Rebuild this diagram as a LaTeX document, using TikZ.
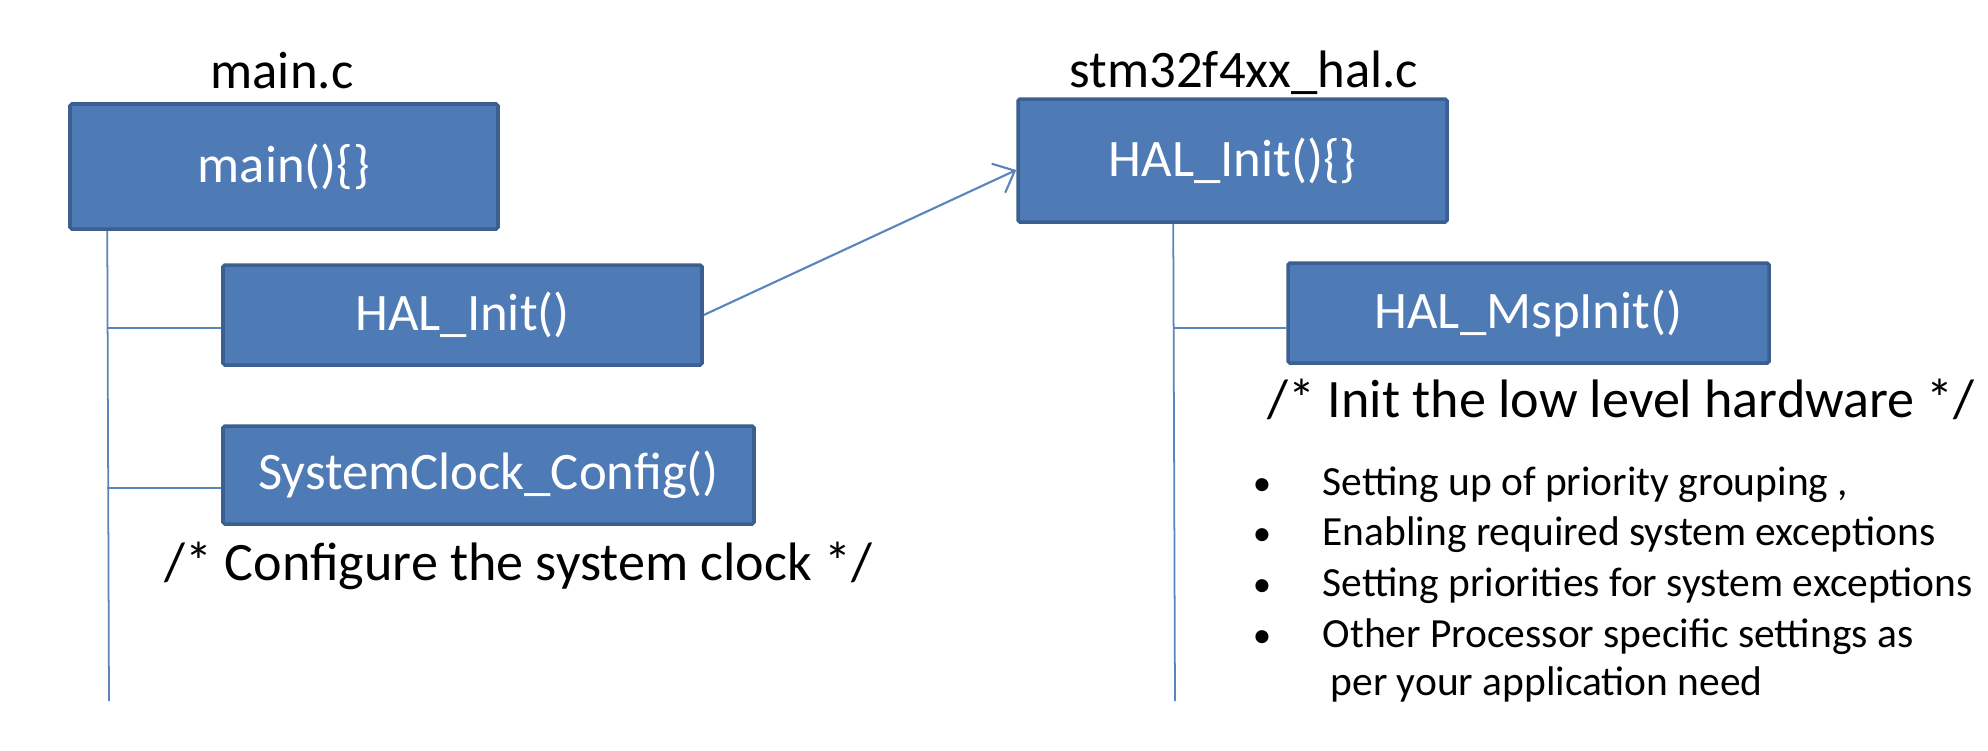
\documentclass[tikz,border=0pt]{standalone}
\usepackage{fontspec}
\setmainfont{Carlito}
\usetikzlibrary{arrows.meta, positioning, calc}

\definecolor{boxfill}{HTML}{4E7AB6}
\definecolor{boxline}{HTML}{3A5F90}
\definecolor{stemline}{HTML}{5A84BC}

\begin{document}
\begin{tikzpicture}[
    func/.style={draw=boxline, fill=boxfill, line width=1pt, rounded corners=0.5pt, rectangle, inner sep=0pt, text=white, font=\fontsize{15}{18}\selectfont},
    file/.style={anchor=base, inner sep=0pt, font=\fontsize{15}{18}\selectfont},
    note/.style={anchor=base west, inner sep=0pt, font=\fontsize{15.4}{18}\selectfont},
    item/.style={anchor=base west, inner sep=0pt, font=\fontsize{11.8}{14}\selectfont},
    stem/.style={draw=stemline, line width=0.5pt},
    call/.style={draw=stemline, line width=0.6pt, -{Straight Barb[length=1.8mm, width=3.2mm]}}
]
\useasboundingbox (0,0) rectangle (19.88,-7.5);

% Nodes main.c
\node[file] (mainfile) at (2.82, -0.88) {main.c};
\node[func, minimum width=4.28cm, minimum height=1.25cm] (mainbox) at (2.84, -1.665) {main()\{\}};
\node[func, minimum width=4.79cm, minimum height=1.00cm] (halinit) at (4.625, -3.15) {HAL\_Init()};
\node[func, minimum width=5.31cm, minimum height=0.98cm] (sysclk) at (4.885, -4.75) {SystemClock\_Config()};
\node[note] (clknote) at (1.64, -5.80) {/* Configure the system clock */};

% Nodes stm32f4xx_hal.c
\node[file] (halfile) at (12.44, -0.87) {stm32f4xx\_hal.c};
\node[func, minimum width=4.29cm, minimum height=1.23cm] (halinitdef) at (12.325, -1.605) {HAL\_Init()\{\}};
\node[func, minimum width=4.81cm, minimum height=1.00cm] (mspinit) at (15.285, -3.13) {HAL\_MspInit()};
\node[note] (mspnote) at (12.67, -4.17) {/* Init the low level hardware */};

% Bullet list
\foreach \y/\txt [count=\i] in {4.95/{Setting up of priority grouping ,}, 5.45/{Enabling required system exceptions}, 5.96/{Setting priorities for system exceptions}, 6.47/{Other Processor specific settings as}} {
  \node[item, anchor=base, font=\fontsize{10.5}{14}\selectfont] (dot\i) at (12.62, -\y) {•};
  \node[item] (item\i) at (13.22, -\y) {\txt};
}
\node[item] (item5) at (13.30, -6.95) {per your application need};

% Stems
\coordinate (mainstem) at ($(mainbox.south west)+(0.39,0)$);
\coordinate (mainend) at (1.09, -7.01);
\coordinate (halstem) at ($(halinitdef.south west)+(1.57,0)$);
\coordinate (halend) at (11.75, -7.01);
\draw[stem] (mainstem) -- (mainend);
\draw[stem] (halstem) -- (halend);

% Branches
\coordinate (halinitin) at ([yshift=-1.3mm]halinit.west);
\coordinate (sysclkin) at ([yshift=-1.3mm]sysclk.west);
\coordinate (mspinitin) at ([yshift=-1.5mm]mspinit.west);
\draw[stem] (halinitin -| mainstem) -- (halinitin);
\draw[stem] (sysclkin -| mainstem) -- (sysclkin);
\draw[stem] (mspinitin -| halstem) -- (mspinitin);

% Call arrow
\draw[call] (halinit.east) -- ([yshift=-0.95mm]halinitdef.west);

\end{tikzpicture}
\end{document}
